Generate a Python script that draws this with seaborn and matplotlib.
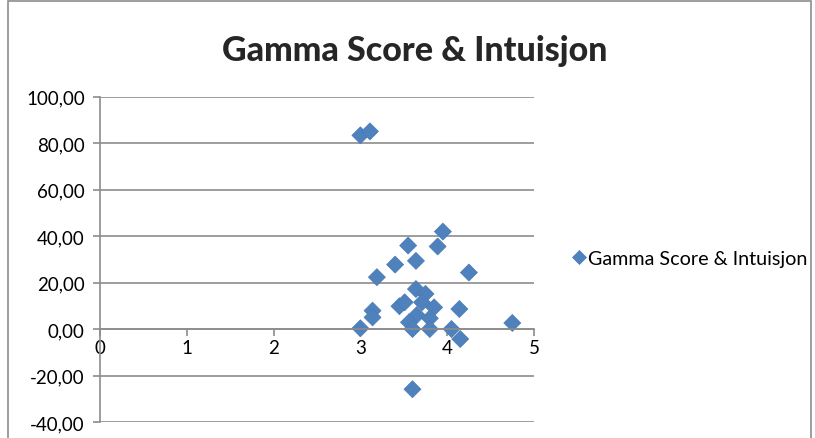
import matplotlib
matplotlib.use("Agg")
import pandas as pd
import seaborn as sns
import matplotlib.pyplot as plt
from matplotlib.patches import Rectangle
from matplotlib.ticker import FuncFormatter, MultipleLocator

gamma = [3.00, 3.11, 3.95, 3.55, 3.89, 3.40, 3.64, 3.19, 4.25, 3.64,
         3.75, 3.71, 3.45, 3.51, 3.14, 3.14, 3.85, 4.14, 3.65, 3.80,
         3.56, 3.60, 3.80, 3.00, 4.05, 4.15, 4.75, 3.60]
intuisjon = [83.3, 85.0, 41.9, 35.9, 35.5, 27.7, 29.3, 22.3, 24.3, 17.2,
             15.1, 11.5, 9.8, 11.5, 7.9, 5.0, 9.3, 8.6, 6.0, 4.6,
             2.9, 0.0, 0.0, 0.3, 0.0, -4.3, 2.6, -25.9]
series = "Gamma Score & Intuisjon"

df = pd.DataFrame({"x": gamma, "y": intuisjon, "serie": series})

sns.set_style("white")
plt.rcParams["font.family"] = ["Lato", "DejaVu Sans"]

fig = plt.figure(figsize=(8.15, 4.39), dpi=100)
ax = fig.add_axes([0.1227, 0.0364, 0.5325, 0.7415])

sns.scatterplot(data=df, x="x", y="y", hue="serie", palette=["#4F81BD"],
                marker="D", s=75, edgecolor="#4A7AB5", linewidth=0.5, ax=ax)

ax.set_xlim(0, 5)
ax.set_ylim(-40, 100)
ax.yaxis.set_major_locator(MultipleLocator(20))
ax.xaxis.set_major_locator(MultipleLocator(1))
ax.yaxis.set_major_formatter(FuncFormatter(lambda v, p: f"{v:.2f}".replace(".", ",")))
ax.xaxis.set_major_formatter(FuncFormatter(lambda v, p: f"{v:g}"))
ax.grid(axis="y", color="#8C8C8C", linewidth=1.2)
ax.set_axisbelow(True)

for s in ["top", "right"]:
    ax.spines[s].set_visible(False)
ax.spines["bottom"].set_position(("data", 0))
ax.spines["bottom"].set_color("#8C8C8C")
ax.spines["left"].set_color("#8C8C8C")
ax.spines["bottom"].set_linewidth(1.2)
ax.spines["left"].set_linewidth(1.2)
ax.tick_params(axis="y", direction="out", length=5, color="#8C8C8C", width=1.2,
               labelsize=13.5, labelcolor="black", pad=6, left=True)
ax.tick_params(axis="x", direction="out", length=5, color="#8C8C8C", width=1.2,
               labelsize=13.5, labelcolor="black", pad=2, bottom=True)
ax.set_xlabel("")
ax.set_ylabel("")

leg = ax.legend(loc="center left", bbox_to_anchor=(0.676, 0.41),
                bbox_transform=fig.transFigure, frameon=False, fontsize=14.2,
                handletextpad=0.0, handlelength=1.0, markerscale=0.8)
for t in leg.get_texts():
    t.set_color("black")

fig.suptitle(series, x=0.509, y=0.883, fontsize=24.5, fontweight="black",
             va="center")

fig.patches.append(Rectangle((8 / 815, -0.02), 803 / 815, 1.015, transform=fig.transFigure,
                             fill=False, edgecolor="#8C8C8C", linewidth=1.2))

fig.savefig("out.png", dpi=100)
